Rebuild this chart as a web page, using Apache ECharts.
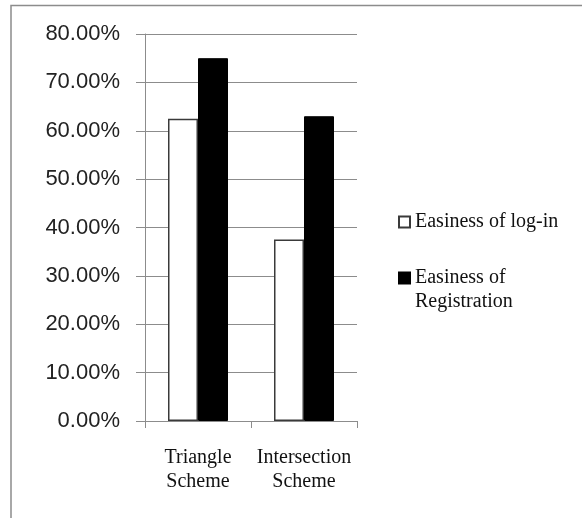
<!DOCTYPE html>
<html>
<head>
<meta charset="utf-8">
<script src="https://cdn.jsdelivr.net/npm/echarts@6/dist/echarts.min.js"></script>
<style>
    html, body { margin: 0; padding: 0; background: #fff; }
    #main { width: 582px; height: 518px; }
</style>
</head>
<body>
<div id="main"></div>
<script>
// chart values
const categories = ['Triangle\nScheme', 'Intersection\nScheme'];
const seriesNames = ['Easiness of log-in', 'Easiness of Registration'];
const loginValues = [0.625, 0.375];
const registrationValues = [0.75, 0.63];
const yTicks = [0, 0.1, 0.2, 0.3, 0.4, 0.5, 0.6, 0.7, 0.8];

document.addEventListener('DOMContentLoaded', function () {
    const serif = 'Liberation Serif';
    const grey = '#8c8c8c';

    let options = {
        animation: false,
        graphic: [{
            type: 'rect',
            shape: { x: 11, y: 5.5, width: 700, height: 700 },
            style: { fill: 'none', stroke: grey, lineWidth: 1.5 },
        }],
        grid: { left: 145, right: 225, top: 34, bottom: 97 },
        legend: [{
            data: [seriesNames[0]],
            left: 398,
            top: 210,
            padding: 0,
            itemWidth: 11,
            itemHeight: 11,
            icon: 'rect',
            selectedMode: false,
            textStyle: { fontFamily: serif, fontSize: 20, color: '#111', lineHeight: 24 },
        }, {
            data: [seriesNames[1]],
            left: 398,
            top: 242,
            padding: 0,
            itemWidth: 11,
            itemHeight: 11,
            icon: 'rect',
            selectedMode: false,
            // empty first line so the icon sits beside the first visible line
            formatter: function () {
                return '\nEasiness of\nRegistration';
            },
            textStyle: { fontFamily: serif, fontSize: 20, color: '#111', lineHeight: 24 },
        }],
        xAxis: {
            type: 'category',
            data: categories,
            axisLine: { lineStyle: { color: grey, width: 1 } },
            axisTick: { show: true, length: 7, alignWithLabel: false, lineStyle: { color: grey } },
            axisLabel: {
                margin: 25,
                fontFamily: serif,
                fontSize: 20,
                lineHeight: 24,
                color: '#111',
                interval: 0,
            },
        },
        yAxis: {
            type: 'value',
            min: yTicks[0],
            max: yTicks[yTicks.length - 1],
            interval: 0.1,
            axisLine: { show: true, lineStyle: { color: grey } },
            axisTick: { show: true, length: 9, lineStyle: { color: grey } },
            splitLine: { lineStyle: { color: grey, width: 1 } },
            axisLabel: {
                margin: 25,
                fontFamily: 'Liberation Sans',
                fontSize: 22,
                color: '#222',
                formatter: function (v) {
                    return (v * 100).toFixed(2) + '%';
                },
            },
        },
        series: [{
            name: seriesNames[0],
            type: 'bar',
            data: loginValues,
            barWidth: 30,
            barGap: '0%',
            itemStyle: { color: '#fff', borderColor: '#3a3a3a', borderWidth: 1.5 },
        }, {
            name: seriesNames[1],
            type: 'bar',
            data: registrationValues,
            barWidth: 30,
            itemStyle: { color: '#000', borderColor: '#000', borderWidth: 1 },
        }],
    };

    let myChart = echarts.init(document.getElementById('main'));
    myChart.setOption(options);
});
</script>
</body>
</html>
